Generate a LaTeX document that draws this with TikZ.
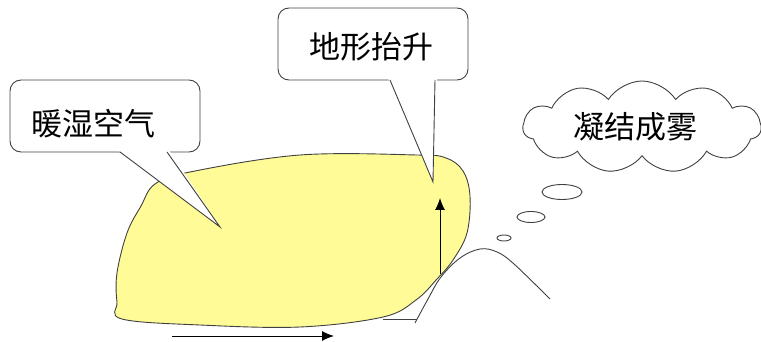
\documentclass[tikz,border=0pt]{standalone}
\usepackage{fontspec}
\newfontfamily\cjk{Noto Sans CJK SC}
\usetikzlibrary{shapes,arrows.meta,positioning}
\definecolor{airmass}{RGB}{255,252,152}

\begin{document}
\begin{tikzpicture}[x=1pt,y=-1pt]
	\tikzstyle{line}=[draw=black!75, line width=0.9pt]
	\tikzstyle{label}=[font=\cjk\fontsize{31}{36}\selectfont, inner sep=0pt]
	\tikzstyle{box}=[line, fill=white, rectangle, rounded corners=11pt,
	  inner sep=0pt]
	\tikzstyle{bubble}=[line, fill=white, ellipse, inner sep=0pt]
	\tikzstyle{flow}=[black, line width=1pt, -{Latex[length=12pt,width=10pt]}]
	\useasboundingbox (0,0) rectangle (761,342);

	% warm moist air mass
	\path[line, fill=airmass] plot[smooth cycle, tension=0.6] coordinates {
	  (155,184) (190,172) (300,155) (417,155) (446,158) (463,171)
	  (470,196) (467,233) (453,260) (437,279) (416,300) (383,317)
	  (300,327) (200,325) (122,319) (117,302) (117,273) (127,233)
	  (141,206)};

	% the hill
	\coordinate (foot) at (415,323);
	\coordinate (ledge a) at (383,319);
	\coordinate (ledge b) at (417,319);
	\draw[line] (ledge a) -- (ledge b);
	\draw[line] plot[smooth, tension=0.6] coordinates {
	  (foot) (428,299) (441,277) (460,258) (480,249) (497,252)
	  (514,264) (550,299)};

	% arrows
	\coordinate (flow a) at (172,336);
	\coordinate (flow b) at (334,336);
	\coordinate (lift a) at (440,274);
	\coordinate (lift b) at (440,198);
	\draw[flow] (flow a) -- (flow b);
	\draw[flow] (lift a) -- (lift b);

	% callout: warm air
	\node[box, minimum width=190pt, minimum height=72pt] (warmbox)
	  at (105,116) {};
	\node[label] (warm) at (93,124) {暖湿空气};
	\coordinate (warmtip) at (220,227);
	\fill[white] (118,150) -- (warmtip) -- (169,150) -- cycle;
	\draw[line] (120,152) -- (warmtip) -- (167,152);

	% callout: lifting
	\node[box, minimum width=190pt, minimum height=72pt] (liftbox)
	  at (373,44) {};
	\node[label] (lift) at (371,47) {地形抬升};
	\coordinate (lifttip) at (433,182);
	\fill[white] (388,78) -- (lifttip) -- (437,78) -- cycle;
	\draw[line] (390,80) -- (lifttip) -- (435,80);

	% thought cloud
	\node[line, fill=white, cloud, cloud puffs=11, cloud puff arc=115,
	  cloud ignores aspect, minimum width=238pt, minimum height=92pt,
	  inner sep=0pt] (fogcloud) at (642,127) {};
	\node[label] (fog) at (635,127) {凝结成雾};
	\node[bubble, minimum width=40pt, minimum height=15pt] (puff a)
	  at (562,192) {};
	\node[bubble, minimum width=28pt, minimum height=11pt] (puff b)
	  at (531,217) {};
	\node[bubble, minimum width=14pt, minimum height=6pt] (puff c)
	  at (504,238) {};
\end{tikzpicture}
\end{document}
